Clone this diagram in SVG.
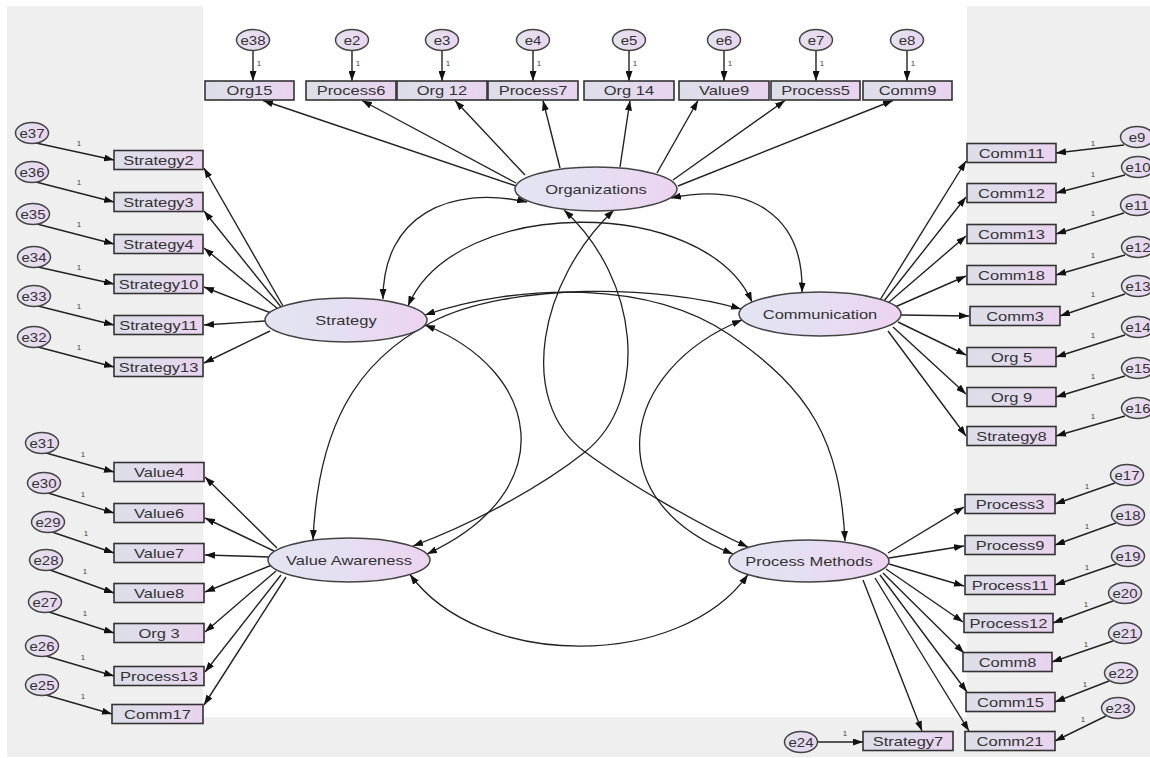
<svg xmlns="http://www.w3.org/2000/svg" width="1150" height="758" viewBox="0 0 1150 758">
<defs>
<style>
.box{fill:url(#gBox);stroke:#333;stroke-width:1.6}
.lat{fill:url(#gLat);stroke:#444;stroke-width:1.5}
.err{fill:url(#gErr);stroke:#444;stroke-width:1.5}
text{font-family:"Liberation Sans",Arial,sans-serif;font-size:12.5px;fill:#333;text-anchor:middle}
.et{font-size:12px}
.one{font-size:8px;fill:#444}
.ln{stroke:#222;stroke-width:1.4;fill:none;marker-end:url(#ah)}
.cov{stroke:#222;stroke-width:1.3;fill:none;marker-start:url(#ah);marker-end:url(#ah)}
</style>
<linearGradient id="gBox" x1="0" y1="0" x2="1" y2="0"><stop offset="0" stop-color="#dcdee8"/><stop offset="0.5" stop-color="#e2dbec"/><stop offset="1" stop-color="#e9d2ee"/></linearGradient>
<linearGradient id="gLat" x1="0" y1="0" x2="1" y2="0"><stop offset="0" stop-color="#e2e5f2"/><stop offset="0.5" stop-color="#e6def2"/><stop offset="1" stop-color="#edd3f0"/></linearGradient>
<linearGradient id="gErr" x1="0" y1="0" x2="1" y2="0"><stop offset="0" stop-color="#e2e3ee"/><stop offset="1" stop-color="#ebd4ef"/></linearGradient>
<marker id="ah" viewBox="0 0 10 7" refX="10" refY="3.5" markerWidth="10" markerHeight="7" markerUnits="userSpaceOnUse" orient="auto-start-reverse"><path d="M0,0 L10,3.5 L0,7 z" fill="#111"/></marker>
</defs>
<rect x="0" y="0" width="1150" height="758" fill="#ffffff"/>
<rect x="7" y="6" width="1143" height="751" fill="#efefef"/>
<rect x="203" y="6" width="764" height="711" fill="#ffffff"/>

<g id="connectors">
<!-- Organizations loadings -->
<path class="ln" d="M516,186 L263,100.5"/>
<path class="ln" d="M516,183 L362,100.5"/>
<path class="ln" d="M525,175 L455,100.5"/>
<path class="ln" d="M560,168 L543,100.5"/>
<path class="ln" d="M620,167 L630,100.5"/>
<path class="ln" d="M657,173 L698,100.5"/>
<path class="ln" d="M673,180 L785,100.5"/>
<path class="ln" d="M678,186 L893,100.5"/>
<!-- top errors -->
<path class="ln" d="M253,50.5 L253,81"/>
<path class="ln" d="M352,50.5 L352,81"/>
<path class="ln" d="M442,50.5 L442,81"/>
<path class="ln" d="M533,50.5 L533,81"/>
<path class="ln" d="M629,50.5 L629,81"/>
<path class="ln" d="M724,50.5 L724,81"/>
<path class="ln" d="M816,50.5 L816,81"/>
<path class="ln" d="M907,50.5 L907,81"/>
<!-- Strategy loadings -->
<path class="ln" d="M283,306 L204,168"/>
<path class="ln" d="M281,307 L204,211"/>
<path class="ln" d="M278,309 L204,248"/>
<path class="ln" d="M271,313 L204,287"/>
<path class="ln" d="M265,321 L204,325"/>
<path class="ln" d="M270,331 L204,363"/>
<!-- Strategy errors -->
<path class="ln" d="M36,143 L114,160"/>
<path class="ln" d="M36,182 L114,202"/>
<path class="ln" d="M37,224 L114,244"/>
<path class="ln" d="M38,267 L114,284"/>
<path class="ln" d="M38,306 L114,325"/>
<path class="ln" d="M38,347 L114,367"/>
<!-- Value Awareness loadings -->
<path class="ln" d="M277,548 L205,477"/>
<path class="ln" d="M274,551 L205,518"/>
<path class="ln" d="M270,557 L205,555"/>
<path class="ln" d="M272,565 L205,592"/>
<path class="ln" d="M276,571 L205,632"/>
<path class="ln" d="M281,575 L205,672"/>
<path class="ln" d="M286,577 L204,705"/>
<!-- VA errors -->
<path class="ln" d="M46,453 L114,472"/>
<path class="ln" d="M48,493 L114,513"/>
<path class="ln" d="M52,532 L114,553"/>
<path class="ln" d="M50,570 L114,593"/>
<path class="ln" d="M49,612 L114,633"/>
<path class="ln" d="M46,656 L114,676"/>
<path class="ln" d="M46,695 L112,714"/>
<!-- Communication loadings -->
<path class="ln" d="M880,300 L966,161"/>
<path class="ln" d="M884,301 L966,197"/>
<path class="ln" d="M888,303 L966,236"/>
<path class="ln" d="M895,307 L966,276"/>
<path class="ln" d="M901,315 L969,316"/>
<path class="ln" d="M898,322 L966,355"/>
<path class="ln" d="M893,327 L966,394"/>
<path class="ln" d="M888,331 L966,436"/>
<!-- Communication errors -->
<path class="ln" d="M1124,145 L1056,153"/>
<path class="ln" d="M1125,175 L1056,193"/>
<path class="ln" d="M1124,213 L1056,234"/>
<path class="ln" d="M1125,255 L1056,275"/>
<path class="ln" d="M1125,294 L1060,316"/>
<path class="ln" d="M1125,335 L1056,357"/>
<path class="ln" d="M1125,376 L1056,397"/>
<path class="ln" d="M1125,416 L1056,436"/>
<!-- Process Methods loadings -->
<path class="ln" d="M888,553 L964,507"/>
<path class="ln" d="M889,558 L964,546"/>
<path class="ln" d="M889,564 L964,586"/>
<path class="ln" d="M886,569 L963,622"/>
<path class="ln" d="M883,573 L964,653"/>
<path class="ln" d="M880,575 L967,692"/>
<path class="ln" d="M875,578 L969,731"/>
<path class="ln" d="M863,580 L922,731"/>
<!-- Process errors -->
<path class="ln" d="M1115,483 L1055,504"/>
<path class="ln" d="M1116,523 L1055,545"/>
<path class="ln" d="M1116,564 L1055,585"/>
<path class="ln" d="M1113,601 L1053,623"/>
<path class="ln" d="M1113,641 L1052,662"/>
<path class="ln" d="M1109,681 L1055,702"/>
<path class="ln" d="M1106,716 L1055,741"/>
<path class="ln" d="M817,742 L863,742"/>
<!-- covariances -->
<path class="cov" d="M527,202 C450,185 383,215 383,299"/>
<path class="cov" d="M671,198 C750,182 804,215 802,292.5"/>
<path class="cov" d="M564,210 C640,280 650,400 585,452 C540,488 470,525 413,546"/>
<path class="cov" d="M614,210 C540,280 515,400 585,452 C630,485 700,525 748,547"/>
<path class="cov" d="M408,306 C455,195 705,195 752,302"/>
<path class="cov" d="M425,325 C540,370 565,490 427,554"/>
<path class="cov" d="M425,315 C520,283 650,280 730,335 S840,440 845,541"/>
<path class="cov" d="M741,309 C660,285 510,282 432,322 S318,430 313,540"/>
<path class="cov" d="M742,320 C620,370 595,500 733,554"/>
<path class="cov" d="M410,574.5 C480,670 680,670 748,574.6"/>
<!-- regression weight labels -->
<g class="one">
<text class="one" x="259" y="66">1</text>
<text class="one" x="358" y="66">1</text>
<text class="one" x="448" y="66">1</text>
<text class="one" x="539" y="66">1</text>
<text class="one" x="635" y="66">1</text>
<text class="one" x="730" y="66">1</text>
<text class="one" x="822" y="66">1</text>
<text class="one" x="913" y="66">1</text>
<text class="one" x="79" y="146">1</text>
<text class="one" x="79" y="185">1</text>
<text class="one" x="79" y="227">1</text>
<text class="one" x="79" y="270">1</text>
<text class="one" x="79" y="309">1</text>
<text class="one" x="79" y="350">1</text>
<text class="one" x="83" y="457">1</text>
<text class="one" x="83" y="497">1</text>
<text class="one" x="86" y="536">1</text>
<text class="one" x="85" y="574">1</text>
<text class="one" x="85" y="616">1</text>
<text class="one" x="83" y="660">1</text>
<text class="one" x="83" y="699">1</text>
<text class="one" x="1093" y="146">1</text>
<text class="one" x="1093" y="177">1</text>
<text class="one" x="1093" y="216">1</text>
<text class="one" x="1093" y="258">1</text>
<text class="one" x="1093" y="297">1</text>
<text class="one" x="1093" y="338">1</text>
<text class="one" x="1093" y="379">1</text>
<text class="one" x="1093" y="419">1</text>
<text class="one" x="1087" y="489">1</text>
<text class="one" x="1087" y="529">1</text>
<text class="one" x="1087" y="570">1</text>
<text class="one" x="1086" y="607">1</text>
<text class="one" x="1086" y="647">1</text>
<text class="one" x="1085" y="687">1</text>
<text class="one" x="1083" y="722">1</text>
<text class="one" x="845" y="736">1</text>
</g>
</g>

<!-- latent variables -->
<g id="Organizations"><ellipse class="lat" cx="596" cy="189" rx="81" ry="22"/><text transform="translate(596 193.5) scale(1.32 1)">Organizations</text></g>
<g id="Strategy"><ellipse class="lat" cx="346" cy="320" rx="81" ry="22"/><text transform="translate(346 324.5) scale(1.32 1)">Strategy</text></g>
<g id="Communication"><ellipse class="lat" cx="820" cy="314" rx="81" ry="22"/><text transform="translate(820 318.5) scale(1.32 1)">Communication</text></g>
<g id="ValueAwareness"><ellipse class="lat" cx="349" cy="560" rx="81" ry="22"/><text transform="translate(349 564.5) scale(1.32 1)">Value Awareness</text></g>
<g id="ProcessMethods"><ellipse class="lat" cx="809" cy="561" rx="80" ry="21"/><text transform="translate(809 565.5) scale(1.32 1)">Process Methods</text></g>

<!-- top observed -->
<g id="Org15"><rect class="box" x="205" y="81" width="89" height="19"/><text transform="translate(249.5 95) scale(1.32 1)">Org15</text></g>
<g id="Process6"><rect class="box" x="306" y="81" width="90" height="19"/><text transform="translate(351 95) scale(1.32 1)">Process6</text></g>
<g id="Org12"><rect class="box" x="397" y="81" width="90" height="19"/><text transform="translate(442 95) scale(1.32 1)">Org 12</text></g>
<g id="Process7"><rect class="box" x="488" y="81" width="90" height="19"/><text transform="translate(533 95) scale(1.32 1)">Process7</text></g>
<g id="Org14"><rect class="box" x="584" y="81" width="90" height="19"/><text transform="translate(629 95) scale(1.32 1)">Org 14</text></g>
<g id="Value9"><rect class="box" x="679" y="81" width="90" height="19"/><text transform="translate(724 95) scale(1.32 1)">Value9</text></g>
<g id="Process5"><rect class="box" x="771" y="81" width="89" height="19"/><text transform="translate(815.5 95) scale(1.32 1)">Process5</text></g>
<g id="Comm9"><rect class="box" x="863" y="81" width="89" height="19"/><text transform="translate(907.5 95) scale(1.32 1)">Comm9</text></g>

<!-- top errors -->
<g id="e38"><ellipse class="err" cx="253" cy="40" rx="16.5" ry="10.5"/><text class="et" transform="translate(253 44.5) scale(1.25 1)">e38</text></g>
<g id="e2"><ellipse class="err" cx="352" cy="40" rx="16.5" ry="10.5"/><text class="et" transform="translate(352 44.5) scale(1.25 1)">e2</text></g>
<g id="e3"><ellipse class="err" cx="442" cy="40" rx="16.5" ry="10.5"/><text class="et" transform="translate(442 44.5) scale(1.25 1)">e3</text></g>
<g id="e4"><ellipse class="err" cx="533" cy="40" rx="16.5" ry="10.5"/><text class="et" transform="translate(533 44.5) scale(1.25 1)">e4</text></g>
<g id="e5"><ellipse class="err" cx="629" cy="40" rx="16.5" ry="10.5"/><text class="et" transform="translate(629 44.5) scale(1.25 1)">e5</text></g>
<g id="e6"><ellipse class="err" cx="724" cy="40" rx="16.5" ry="10.5"/><text class="et" transform="translate(724 44.5) scale(1.25 1)">e6</text></g>
<g id="e7"><ellipse class="err" cx="816" cy="40" rx="16.5" ry="10.5"/><text class="et" transform="translate(816 44.5) scale(1.25 1)">e7</text></g>
<g id="e8"><ellipse class="err" cx="907" cy="40" rx="16.5" ry="10.5"/><text class="et" transform="translate(907 44.5) scale(1.25 1)">e8</text></g>

<!-- Strategy indicators -->
<g id="Strategy2"><rect class="box" x="114" y="150.5" width="89" height="19"/><text transform="translate(158.5 164.5) scale(1.32 1)">Strategy2</text></g>
<g id="Strategy3"><rect class="box" x="114" y="192.5" width="89" height="19"/><text transform="translate(158.5 206.5) scale(1.32 1)">Strategy3</text></g>
<g id="Strategy4"><rect class="box" x="114" y="234.5" width="89" height="19"/><text transform="translate(158.5 248.5) scale(1.32 1)">Strategy4</text></g>
<g id="Strategy10"><rect class="box" x="114" y="274.5" width="89" height="19"/><text transform="translate(158.5 288.5) scale(1.32 1)">Strategy10</text></g>
<g id="Strategy11"><rect class="box" x="114" y="315.5" width="89" height="19"/><text transform="translate(158.5 329.5) scale(1.32 1)">Strategy11</text></g>
<g id="Strategy13"><rect class="box" x="114" y="357.5" width="89" height="19"/><text transform="translate(158.5 371.5) scale(1.32 1)">Strategy13</text></g>
<g id="e37"><ellipse class="err" cx="32" cy="133" rx="16.5" ry="10.5"/><text class="et" transform="translate(32 137.5) scale(1.25 1)">e37</text></g>
<g id="e36"><ellipse class="err" cx="32" cy="172" rx="16.5" ry="10.5"/><text class="et" transform="translate(32 176.5) scale(1.25 1)">e36</text></g>
<g id="e35"><ellipse class="err" cx="33" cy="214" rx="16.5" ry="10.5"/><text class="et" transform="translate(33 218.5) scale(1.25 1)">e35</text></g>
<g id="e34"><ellipse class="err" cx="34" cy="257" rx="16.5" ry="10.5"/><text class="et" transform="translate(34 261.5) scale(1.25 1)">e34</text></g>
<g id="e33"><ellipse class="err" cx="34" cy="296" rx="16.5" ry="10.5"/><text class="et" transform="translate(34 300.5) scale(1.25 1)">e33</text></g>
<g id="e32"><ellipse class="err" cx="34" cy="337" rx="16.5" ry="10.5"/><text class="et" transform="translate(34 341.5) scale(1.25 1)">e32</text></g>

<!-- Value Awareness indicators -->
<g id="Value4"><rect class="box" x="114" y="462.5" width="90" height="19"/><text transform="translate(159 476.5) scale(1.32 1)">Value4</text></g>
<g id="Value6"><rect class="box" x="114" y="503.5" width="90" height="19"/><text transform="translate(159 517.5) scale(1.32 1)">Value6</text></g>
<g id="Value7"><rect class="box" x="114" y="543.5" width="90" height="19"/><text transform="translate(159 557.5) scale(1.32 1)">Value7</text></g>
<g id="Value8"><rect class="box" x="114" y="583.5" width="90" height="19"/><text transform="translate(159 597.5) scale(1.32 1)">Value8</text></g>
<g id="Org3"><rect class="box" x="114" y="623.5" width="90" height="19"/><text transform="translate(159 637.5) scale(1.32 1)">Org 3</text></g>
<g id="Process13"><rect class="box" x="114" y="666.5" width="90" height="19"/><text transform="translate(159 680.5) scale(1.32 1)">Process13</text></g>
<g id="Comm17"><rect class="box" x="112" y="704.5" width="91" height="19"/><text transform="translate(157.5 718.5) scale(1.32 1)">Comm17</text></g>
<g id="e31"><ellipse class="err" cx="42" cy="443" rx="16.5" ry="10.5"/><text class="et" transform="translate(42 447.5) scale(1.25 1)">e31</text></g>
<g id="e30"><ellipse class="err" cx="44" cy="483" rx="16.5" ry="10.5"/><text class="et" transform="translate(44 487.5) scale(1.25 1)">e30</text></g>
<g id="e29"><ellipse class="err" cx="48" cy="522" rx="16.5" ry="10.5"/><text class="et" transform="translate(48 526.5) scale(1.25 1)">e29</text></g>
<g id="e28"><ellipse class="err" cx="46" cy="560" rx="16.5" ry="10.5"/><text class="et" transform="translate(46 564.5) scale(1.25 1)">e28</text></g>
<g id="e27"><ellipse class="err" cx="45" cy="602" rx="16.5" ry="10.5"/><text class="et" transform="translate(45 606.5) scale(1.25 1)">e27</text></g>
<g id="e26"><ellipse class="err" cx="42" cy="646" rx="16.5" ry="10.5"/><text class="et" transform="translate(42 650.5) scale(1.25 1)">e26</text></g>
<g id="e25"><ellipse class="err" cx="42" cy="685" rx="16.5" ry="10.5"/><text class="et" transform="translate(42 689.5) scale(1.25 1)">e25</text></g>

<!-- Communication indicators -->
<g id="Comm11"><rect class="box" x="967" y="143.5" width="89" height="19"/><text transform="translate(1011.5 157.5) scale(1.32 1)">Comm11</text></g>
<g id="Comm12"><rect class="box" x="967" y="183.5" width="89" height="19"/><text transform="translate(1011.5 197.5) scale(1.32 1)">Comm12</text></g>
<g id="Comm13"><rect class="box" x="967" y="224.5" width="89" height="19"/><text transform="translate(1011.5 238.5) scale(1.32 1)">Comm13</text></g>
<g id="Comm18"><rect class="box" x="967" y="265.5" width="89" height="19"/><text transform="translate(1011.5 279.5) scale(1.32 1)">Comm18</text></g>
<g id="Comm3"><rect class="box" x="970" y="306.5" width="90" height="19"/><text transform="translate(1015 320.5) scale(1.32 1)">Comm3</text></g>
<g id="Org5"><rect class="box" x="967" y="347.5" width="89" height="19"/><text transform="translate(1011.5 361.5) scale(1.32 1)">Org 5</text></g>
<g id="Org9"><rect class="box" x="967" y="387.5" width="89" height="19"/><text transform="translate(1011.5 401.5) scale(1.32 1)">Org 9</text></g>
<g id="Strategy8"><rect class="box" x="967" y="426.5" width="89" height="19"/><text transform="translate(1011.5 440.5) scale(1.32 1)">Strategy8</text></g>
<g id="e9"><ellipse class="err" cx="1137" cy="137" rx="16.5" ry="10.5"/><text class="et" transform="translate(1137 141.5) scale(1.25 1)">e9</text></g>
<g id="e10"><ellipse class="err" cx="1138" cy="167" rx="16.5" ry="10.5"/><text class="et" transform="translate(1138 171.5) scale(1.25 1)">e10</text></g>
<g id="e11"><ellipse class="err" cx="1137" cy="205" rx="16.5" ry="10.5"/><text class="et" transform="translate(1137 209.5) scale(1.25 1)">e11</text></g>
<g id="e12"><ellipse class="err" cx="1138" cy="247" rx="16.5" ry="10.5"/><text class="et" transform="translate(1138 251.5) scale(1.25 1)">e12</text></g>
<g id="e13"><ellipse class="err" cx="1138" cy="286" rx="16.5" ry="10.5"/><text class="et" transform="translate(1138 290.5) scale(1.25 1)">e13</text></g>
<g id="e14"><ellipse class="err" cx="1138" cy="327" rx="16.5" ry="10.5"/><text class="et" transform="translate(1138 331.5) scale(1.25 1)">e14</text></g>
<g id="e15"><ellipse class="err" cx="1138" cy="368" rx="16.5" ry="10.5"/><text class="et" transform="translate(1138 372.5) scale(1.25 1)">e15</text></g>
<g id="e16"><ellipse class="err" cx="1138" cy="408" rx="16.5" ry="10.5"/><text class="et" transform="translate(1138 412.5) scale(1.25 1)">e16</text></g>

<!-- Process Methods indicators -->
<g id="Process3"><rect class="box" x="965" y="494.5" width="90" height="19"/><text transform="translate(1010 508.5) scale(1.32 1)">Process3</text></g>
<g id="Process9"><rect class="box" x="965" y="535.5" width="90" height="19"/><text transform="translate(1010 549.5) scale(1.32 1)">Process9</text></g>
<g id="Process11"><rect class="box" x="965" y="575.5" width="90" height="19"/><text transform="translate(1010 589.5) scale(1.32 1)">Process11</text></g>
<g id="Process12"><rect class="box" x="964" y="613.5" width="89" height="19"/><text transform="translate(1008.5 627.5) scale(1.32 1)">Process12</text></g>
<g id="Comm8"><rect class="box" x="963" y="652.5" width="89" height="19"/><text transform="translate(1007.5 666.5) scale(1.32 1)">Comm8</text></g>
<g id="Comm15"><rect class="box" x="966" y="692.5" width="89" height="19"/><text transform="translate(1010.5 706.5) scale(1.32 1)">Comm15</text></g>
<g id="Comm21"><rect class="box" x="965" y="731.5" width="90" height="19"/><text transform="translate(1010 745.5) scale(1.32 1)">Comm21</text></g>
<g id="Strategy7"><rect class="box" x="863" y="731.5" width="90" height="19"/><text transform="translate(908 745.5) scale(1.32 1)">Strategy7</text></g>
<g id="e17"><ellipse class="err" cx="1127" cy="475" rx="16.5" ry="10.5"/><text class="et" transform="translate(1127 479.5) scale(1.25 1)">e17</text></g>
<g id="e18"><ellipse class="err" cx="1128" cy="515" rx="16.5" ry="10.5"/><text class="et" transform="translate(1128 519.5) scale(1.25 1)">e18</text></g>
<g id="e19"><ellipse class="err" cx="1128" cy="556" rx="16.5" ry="10.5"/><text class="et" transform="translate(1128 560.5) scale(1.25 1)">e19</text></g>
<g id="e20"><ellipse class="err" cx="1125" cy="593" rx="16.5" ry="10.5"/><text class="et" transform="translate(1125 597.5) scale(1.25 1)">e20</text></g>
<g id="e21"><ellipse class="err" cx="1125" cy="633" rx="16.5" ry="10.5"/><text class="et" transform="translate(1125 637.5) scale(1.25 1)">e21</text></g>
<g id="e22"><ellipse class="err" cx="1121" cy="673" rx="16.5" ry="10.5"/><text class="et" transform="translate(1121 677.5) scale(1.25 1)">e22</text></g>
<g id="e23"><ellipse class="err" cx="1118" cy="708" rx="16.5" ry="10.5"/><text class="et" transform="translate(1118 712.5) scale(1.25 1)">e23</text></g>
<g id="e24"><ellipse class="err" cx="801" cy="742" rx="16.5" ry="10.5"/><text class="et" transform="translate(801 746.5) scale(1.25 1)">e24</text></g>
</svg>
